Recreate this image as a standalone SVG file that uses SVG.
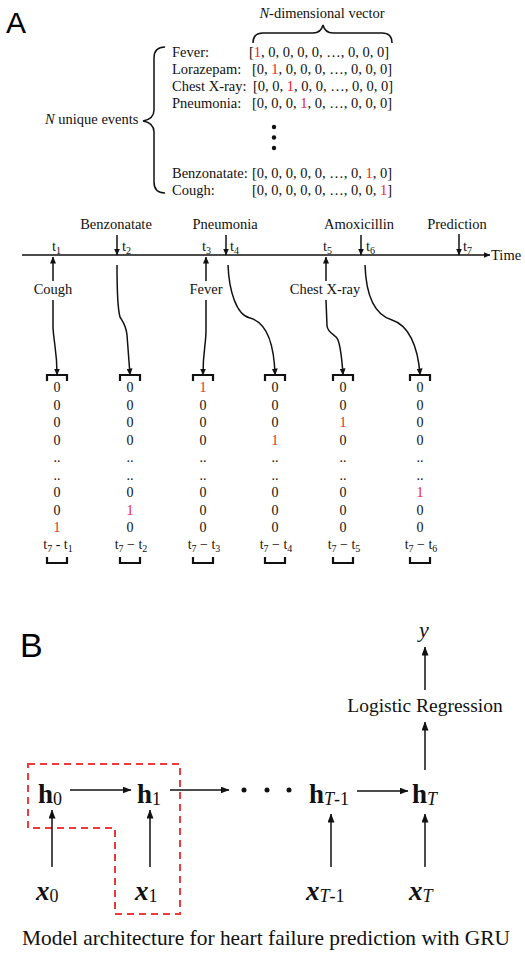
<svg xmlns="http://www.w3.org/2000/svg" width="525" height="954" viewBox="0 0 525 954">
<defs>
<marker id="ah" markerUnits="userSpaceOnUse" markerWidth="7" markerHeight="6" refX="6.5" refY="3" orient="auto"><path d="M0,0 L7,3 L0,6 z" fill="#111"/></marker>
<marker id="ahb" markerUnits="userSpaceOnUse" markerWidth="9" markerHeight="7" refX="8.5" refY="3.5" orient="auto"><path d="M0,0 L9,3.5 L0,7 z" fill="#111"/></marker>
<style>
.s{font-family:"Liberation Serif","Times New Roman",serif;fill:#111;}
.f14{font-size:14.5px;}
.d{font-size:14px;text-anchor:middle;}
.sub{font-size:10px;}
.r{fill:#e8252a;}
.ln{stroke:#111;stroke-width:1.5;fill:none;}
.br{stroke:#111;stroke-width:2.2;fill:none;}
.lab{font-family:"Liberation Sans",Arial,sans-serif;fill:#000;}
.hb{font-size:27px;font-weight:bold;}
.xb{font-size:27px;font-weight:bold;font-style:italic;}
.sb{font-size:18px;font-weight:normal;}
</style>
</defs>
<rect width="525" height="954" fill="#fff"/>

<text class="lab" x="6" y="33" font-size="30">A</text>
<text class="lab" x="20" y="657" font-size="34">B</text>

<!-- Part A: event vectors -->
<g id="vector-list">
<text class="s f14" x="322" y="18" text-anchor="middle"><tspan font-style="italic">N</tspan>-dimensional vector</text>
<path class="ln" stroke-width="1.2" d="M253,43 Q253,33 263,33 H313 Q321,33 323,25 Q325,33 333,33 H382 Q392,33 392,43"/>
<text class="s f14" x="45" y="124"><tspan font-style="italic">N</tspan> unique events</text>
<path class="ln" stroke-width="1.2" d="M165,47 Q154,47 154,58 V110 Q154,119 143,121 Q154,123 154,132 V182 Q154,193 165,193"/>
<text class="s f14" x="172" y="57">Fever:</text>
<text class="s f14" x="249" y="57">[<tspan class="r">1</tspan>, 0, 0, 0, 0, …, 0, 0, 0]</text>
<text class="s f14" x="172" y="74">Lorazepam:</text>
<text class="s f14" x="252" y="74">[0, <tspan class="r">1</tspan>, 0, 0, 0, …, 0, 0, 0]</text>
<text class="s f14" x="172" y="91">Chest X-ray:</text>
<text class="s f14" x="253" y="91">[0, 0, <tspan class="r">1</tspan>, 0, 0, …, 0, 0, 0]</text>
<text class="s f14" x="172" y="108">Pneumonia:</text>
<text class="s f14" x="252" y="108">[0, 0, 0, <tspan class="r">1</tspan>, 0, …, 0, 0, 0]</text>
<circle cx="274" cy="127" r="2.2" fill="#111"/>
<circle cx="274" cy="137.5" r="2.2" fill="#111"/>
<circle cx="274" cy="148" r="2.2" fill="#111"/>
<text class="s f14" x="172" y="178">Benzonatate:</text>
<text class="s f14" x="252" y="178">[0, 0, 0, 0, 0, …, 0, <tspan class="r">1</tspan>, 0]</text>
<text class="s f14" x="172" y="195">Cough:</text>
<text class="s f14" x="252" y="195">[0, 0, 0, 0, 0, …, 0, 0, <tspan class="r">1</tspan>]</text>
</g>

<!-- Timeline -->
<g id="timeline">
<line class="ln" x1="22" y1="255" x2="490" y2="255" stroke-width="1.6" marker-end="url(#ah)"/>
<text class="s f14" x="491" y="260">Time</text>
<text class="s f14" x="52" y="251">t<tspan class="sub" dy="3">1</tspan></text>
<text class="s f14" x="122" y="251">t<tspan class="sub" dy="3">2</tspan></text>
<text class="s f14" x="202" y="251">t<tspan class="sub" dy="3">3</tspan></text>
<text class="s f14" x="230" y="251">t<tspan class="sub" dy="3">4</tspan></text>
<text class="s f14" x="323" y="251">t<tspan class="sub" dy="3">5</tspan></text>
<text class="s f14" x="366" y="251">t<tspan class="sub" dy="3">6</tspan></text>
<text class="s f14" x="463" y="251">t<tspan class="sub" dy="3">7</tspan></text>
</g>

<g id="ev-benzonatate"><text class="s f14" x="116" y="229" text-anchor="middle">Benzonatate</text></g>
<g id="ev-pneumonia"><text class="s f14" x="225" y="229" text-anchor="middle">Pneumonia</text></g>
<g id="ev-amoxicillin"><text class="s f14" x="359" y="229" text-anchor="middle">Amoxicillin</text></g>
<g id="ev-prediction"><text class="s f14" x="457" y="229" text-anchor="middle">Prediction</text></g>
<g id="ev-cough"><text class="s f14" x="53" y="294" text-anchor="middle">Cough</text></g>
<g id="ev-fever"><text class="s f14" x="206" y="294" text-anchor="middle">Fever</text></g>
<g id="ev-chest"><text class="s f14" x="325" y="294" text-anchor="middle">Chest X-ray</text></g>

<g id="timeline-connectors">
<line class="ln" x1="117" y1="235" x2="117" y2="255" marker-end="url(#ah)"/>
<line class="ln" x1="226" y1="235" x2="226" y2="255" marker-end="url(#ah)"/>
<line class="ln" x1="361" y1="235" x2="361" y2="255" marker-end="url(#ah)"/>
<line class="ln" x1="459" y1="234" x2="459" y2="255" marker-end="url(#ah)"/>
<line class="ln" x1="53" y1="281" x2="53" y2="257" marker-end="url(#ah)"/>
<line class="ln" x1="206" y1="281" x2="206" y2="257" marker-end="url(#ah)"/>
<line class="ln" x1="326" y1="281" x2="326" y2="257" marker-end="url(#ah)"/>
<path class="ln" d="M53,300 L53,328 C54,345 57,350 57,375" marker-end="url(#ah)"/>
<path class="ln" d="M117,265 C117,290 118,310 120,317 C123,322 126,325 127,335 L130,375" marker-end="url(#ah)"/>
<path class="ln" d="M206,300 L206,330 C206,345 203,350 203,375" marker-end="url(#ah)"/>
<path class="ln" d="M228,265 C229,290 236,315 250,318 C265,322 274,340 275,375" marker-end="url(#ah)"/>
<path class="ln" d="M326,300 L327,326 C328,334 336,334 338,340 C341,348 342,360 343,375" marker-end="url(#ah)"/>
<path class="ln" d="M365,265 C366,295 375,315 392,320 C408,325 418,345 420,375" marker-end="url(#ah)"/>
</g>

<!-- Column vectors -->
<g id="col1">
<path class="br" d="M47,381 V375 H67 V381"/>
<text class="s d" x="57" y="392">0</text><text class="s d" x="57" y="409.5">0</text><text class="s d" x="57" y="427">0</text><text class="s d" x="57" y="444.5">0</text><text class="s d" x="57" y="462">..</text><text class="s d" x="57" y="479.5">..</text><text class="s d" x="57" y="497">0</text><text class="s d" x="57" y="514.5">0</text><text class="s d r" x="57" y="532">1</text>
<text class="s d" x="58" y="549">t<tspan class="sub" dy="3">7</tspan><tspan dy="-3"> - t</tspan><tspan class="sub" dy="3">1</tspan></text>
<path class="br" d="M47,557 V563 H67 V557"/>
</g>
<g id="col2">
<path class="br" d="M120,381 V375 H140 V381"/>
<text class="s d" x="130" y="392">0</text><text class="s d" x="130" y="409.5">0</text><text class="s d" x="130" y="427">0</text><text class="s d" x="130" y="444.5">0</text><text class="s d" x="130" y="462">..</text><text class="s d" x="130" y="479.5">..</text><text class="s d" x="130" y="497">0</text><text class="s d r" x="130" y="514.5">1</text><text class="s d" x="130" y="532">0</text>
<text class="s d" x="131" y="549">t<tspan class="sub" dy="3">7</tspan><tspan dy="-3"> − t</tspan><tspan class="sub" dy="3">2</tspan></text>
<path class="br" d="M120,557 V563 H140 V557"/>
</g>
<g id="col3">
<path class="br" d="M193,381 V375 H213 V381"/>
<text class="s d r" x="203" y="392">1</text><text class="s d" x="203" y="409.5">0</text><text class="s d" x="203" y="427">0</text><text class="s d" x="203" y="444.5">0</text><text class="s d" x="203" y="462">..</text><text class="s d" x="203" y="479.5">..</text><text class="s d" x="203" y="497">0</text><text class="s d" x="203" y="514.5">0</text><text class="s d" x="203" y="532">0</text>
<text class="s d" x="204" y="549">t<tspan class="sub" dy="3">7</tspan><tspan dy="-3"> − t</tspan><tspan class="sub" dy="3">3</tspan></text>
<path class="br" d="M193,557 V563 H213 V557"/>
</g>
<g id="col4">
<path class="br" d="M265,381 V375 H285 V381"/>
<text class="s d" x="275" y="392">0</text><text class="s d" x="275" y="409.5">0</text><text class="s d" x="275" y="427">0</text><text class="s d r" x="275" y="444.5">1</text><text class="s d" x="275" y="462">..</text><text class="s d" x="275" y="479.5">..</text><text class="s d" x="275" y="497">0</text><text class="s d" x="275" y="514.5">0</text><text class="s d" x="275" y="532">0</text>
<text class="s d" x="276" y="549">t<tspan class="sub" dy="3">7</tspan><tspan dy="-3"> − t</tspan><tspan class="sub" dy="3">4</tspan></text>
<path class="br" d="M265,557 V563 H285 V557"/>
</g>
<g id="col5">
<path class="br" d="M333,381 V375 H353 V381"/>
<text class="s d" x="343" y="392">0</text><text class="s d" x="343" y="409.5">0</text><text class="s d r" x="343" y="427">1</text><text class="s d" x="343" y="444.5">0</text><text class="s d" x="343" y="462">..</text><text class="s d" x="343" y="479.5">..</text><text class="s d" x="343" y="497">0</text><text class="s d" x="343" y="514.5">0</text><text class="s d" x="343" y="532">0</text>
<text class="s d" x="344" y="549">t<tspan class="sub" dy="3">7</tspan><tspan dy="-3"> − t</tspan><tspan class="sub" dy="3">5</tspan></text>
<path class="br" d="M333,557 V563 H353 V557"/>
</g>
<g id="col6">
<path class="br" d="M410,381 V375 H430 V381"/>
<text class="s d" x="420" y="392">0</text><text class="s d" x="420" y="409.5">0</text><text class="s d" x="420" y="427">0</text><text class="s d" x="420" y="444.5">0</text><text class="s d" x="420" y="462">..</text><text class="s d" x="420" y="479.5">..</text><text class="s d r" x="420" y="497">1</text><text class="s d" x="420" y="514.5">0</text><text class="s d" x="420" y="532">0</text>
<text class="s d" x="421" y="549">t<tspan class="sub" dy="3">7</tspan><tspan dy="-3"> − t</tspan><tspan class="sub" dy="3">6</tspan></text>
<path class="br" d="M410,557 V563 H430 V557"/>
</g>

<!-- Part B -->
<path id="gru-cell" d="M28,764 H180 V914 H115 V828 H28 Z" fill="none" stroke="#ee3a3a" stroke-width="2" stroke-dasharray="7,5"/>

<g id="node-y"><text class="s" x="424" y="637" font-size="22" font-style="italic" text-anchor="middle">y</text></g>
<g id="node-lr"><text class="s" x="425" y="712" font-size="19.5" text-anchor="middle">Logistic Regression</text></g>
<g id="node-h0"><text class="s hb" x="38" y="803">h<tspan class="sb" dy="2">0</tspan></text></g>
<g id="node-h1"><text class="s hb" x="137" y="803">h<tspan class="sb" dy="2">1</tspan></text></g>
<g id="node-dots"><circle cx="244" cy="790" r="2.5" fill="#111"/><circle cx="267" cy="790" r="2.5" fill="#111"/><circle cx="289" cy="790" r="2.5" fill="#111"/></g>
<g id="node-hT-1"><text class="s hb" x="309" y="803">h<tspan class="sb" dy="2" font-style="italic">T</tspan><tspan class="sb">-1</tspan></text></g>
<g id="node-hT"><text class="s hb" x="412" y="803">h<tspan class="sb" dy="2" font-style="italic">T</tspan></text></g>
<g id="node-x0"><text class="s xb" x="36" y="900">x<tspan class="sb" dy="2" font-style="normal">0</tspan></text></g>
<g id="node-x1"><text class="s xb" x="135" y="900">x<tspan class="sb" dy="2" font-style="normal">1</tspan></text></g>
<g id="node-xT-1"><text class="s xb" x="306" y="900">x<tspan class="sb" dy="2">T</tspan><tspan class="sb" font-style="normal">-1</tspan></text></g>
<g id="node-xT"><text class="s xb" x="409" y="900">x<tspan class="sb" dy="2">T</tspan></text></g>

<g id="gru-connectors">
<line class="ln" x1="425" y1="690" x2="425" y2="647" marker-end="url(#ahb)"/>
<line class="ln" x1="425" y1="770" x2="425" y2="722" marker-end="url(#ahb)"/>
<line class="ln" x1="70" y1="790" x2="131" y2="790" marker-end="url(#ahb)"/>
<line class="ln" x1="170" y1="790" x2="229" y2="790" marker-end="url(#ahb)"/>
<line class="ln" x1="357" y1="791" x2="408" y2="791" marker-end="url(#ahb)"/>
<line class="ln" x1="52" y1="867" x2="52" y2="810" marker-end="url(#ahb)"/>
<line class="ln" x1="150" y1="867" x2="150" y2="810" marker-end="url(#ahb)"/>
<line class="ln" x1="331" y1="867" x2="331" y2="814" marker-end="url(#ahb)"/>
<line class="ln" x1="425" y1="867" x2="425" y2="814" marker-end="url(#ahb)"/>
</g>

<g id="caption"><text class="s" x="22" y="945" font-size="21.5" textLength="488" lengthAdjust="spacingAndGlyphs">Model architecture for heart failure prediction with GRU</text></g>
</svg>
